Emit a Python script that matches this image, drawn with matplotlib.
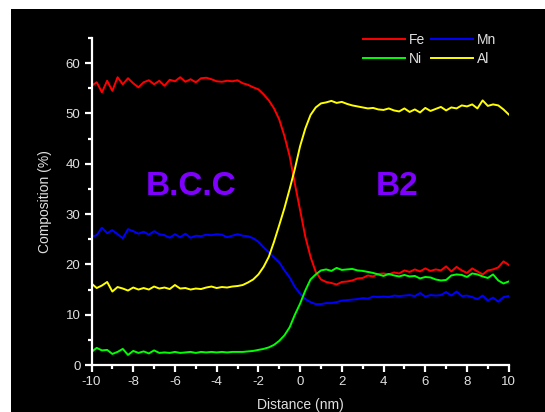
import numpy as np
from matplotlib import pyplot as plt
from matplotlib.patches import Rectangle
from matplotlib.ticker import MultipleLocator

######################
# Data (0.25 nm steps)

distance = np.arange(-10, 10.001, 0.25)

fe = [55.5, 56.2, 54.2, 56.5, 54.5, 57.2, 55.8, 57.0, 56.0, 55.2,
      56.2, 56.6, 55.8, 56.5, 55.5, 56.7, 56.4, 57.2, 56.3, 56.8,
      56.2, 57.0, 57.1, 56.8, 56.4, 56.3, 56.5, 56.4, 56.6, 56.0,
      55.7, 55.2, 54.8, 53.8, 52.6, 51.0, 48.8, 45.5, 41.5, 36.0,
      30.8, 25.5, 21.5, 18.5, 17.0, 16.5, 16.3, 16.0, 16.5, 16.6,
      16.8, 17.2, 17.3, 17.8, 17.6, 18.1, 18.2, 18.0, 18.4, 18.2,
      18.8, 18.5, 19.0, 18.6, 19.2, 18.7, 19.0, 18.8, 19.6, 18.6,
      19.5, 18.8, 18.3, 19.2, 18.6, 18.0, 18.8, 19.0, 19.4, 20.6,
      19.9]

mn = [25.5, 25.8, 27.3, 26.2, 26.8, 26.0, 25.2, 27.0, 26.6, 26.1,
      26.5, 25.9, 26.6, 26.0, 25.8, 25.3, 26.0, 25.4, 26.1, 25.3,
      25.7, 25.6, 25.9, 25.8, 26.0, 25.9, 25.4, 25.7, 26.0, 25.7,
      25.6, 25.2, 24.5, 23.4, 22.4, 21.4, 20.4, 18.8, 17.4, 15.5,
      14.2, 13.1, 12.5, 12.1, 12.1, 12.3, 12.3, 12.5, 12.8, 12.9,
      13.0, 13.1, 13.3, 13.2, 13.6, 13.5, 13.6, 13.5, 13.8, 13.7,
      13.8, 13.9, 13.7, 14.3, 13.6, 13.9, 13.8, 13.9, 14.5, 13.8,
      14.6, 13.7, 13.8, 13.5, 13.1, 13.8, 12.8, 13.4, 12.6, 13.5,
      13.7]

ni = [2.6, 3.4, 2.9, 3.0, 2.2, 2.6, 3.2, 2.0, 2.8, 2.4,
      2.7, 2.3, 2.9, 2.4, 2.5, 2.4, 2.6, 2.4, 2.5, 2.6,
      2.4, 2.6, 2.5, 2.6, 2.5, 2.6, 2.5, 2.6, 2.6, 2.6,
      2.7, 2.8, 3.0, 3.2, 3.5, 4.0, 4.8, 5.9, 7.5, 10.0,
      12.2, 14.8, 17.0, 18.0, 18.8, 19.0, 18.7, 19.3, 18.9, 19.0,
      19.1, 18.8, 18.7, 18.5, 18.3, 18.0, 17.7, 18.1, 17.8, 17.6,
      17.9, 17.6, 17.7, 17.2, 17.5, 17.4, 17.0, 16.8, 16.9, 17.8,
      18.0, 17.9, 17.5, 18.2, 18.0, 17.6, 17.3, 18.0, 16.8, 16.2,
      16.6]

al = [16.2, 15.3, 15.8, 16.5, 14.6, 15.5, 15.2, 14.8, 15.4, 15.0,
      15.3, 15.0, 15.6, 15.2, 15.4, 15.1, 15.9, 15.2, 15.3, 15.0,
      15.2, 15.1, 15.4, 15.6, 15.3, 15.5, 15.4, 15.6, 15.7, 15.9,
      16.4, 17.0, 18.0, 19.5, 21.5, 24.5, 27.8, 31.2, 35.0, 39.0,
      43.5, 47.0, 49.7, 51.2, 52.0, 52.2, 52.5, 52.1, 52.3, 51.9,
      51.6, 51.4, 51.2, 51.0, 51.1, 50.8, 50.7, 51.0, 50.6, 50.4,
      51.0, 50.3, 50.8, 50.2, 51.1, 50.5, 50.9, 51.3, 50.6, 51.2,
      51.0, 51.6, 51.4, 51.8, 51.0, 52.6, 51.5, 51.8, 51.6, 50.8,
      49.8]

######################

plt.rc('font', family=['Liberation Sans', 'DejaVu Sans'])
plt.rc('axes', unicode_minus=False)

fig = plt.figure(figsize=(5.45, 4.12), dpi=100, facecolor='white')
# black panel, leaving a thin white strip on the left and top
fig.patches.append(Rectangle((11 / 545, 0), 1, 1 - 9 / 412, transform=fig.transFigure,
                             facecolor='black', edgecolor='none', zorder=-10))

ax = fig.add_axes([91.5 / 545, 1 - 365 / 412, (508.7 - 91.5) / 545, (365 - 38) / 412])
ax.set_facecolor('black')

lw = 1.4
l_fe, = ax.plot(distance, fe, color='#ff0000', lw=lw, label='Fe')
l_mn, = ax.plot(distance, mn, color='#0000ff', lw=lw, label='Mn')
l_ni, = ax.plot(distance, ni, color='#00ff00', lw=lw, label='Ni')
l_al, = ax.plot(distance, al, color='#ffff00', lw=lw, label='Al')

ax.set_xlim(-10, 10)
ax.set_ylim(0, 65)
ax.xaxis.set_major_locator(MultipleLocator(2))
ax.xaxis.set_minor_locator(MultipleLocator(1))
ax.yaxis.set_major_locator(MultipleLocator(10))
ax.yaxis.set_minor_locator(MultipleLocator(5))

for s in ['top', 'right']:
    ax.spines[s].set_visible(False)
for s in ['left', 'bottom']:
    ax.spines[s].set_color('white')
    ax.spines[s].set_linewidth(1.6)

ax.tick_params(which='major', direction='out', length=5, width=1.6, colors='white',
               labelcolor='#e0e0e0', labelsize=9.5, pad=3)
ax.tick_params(which='minor', direction='out', length=3, width=1.6, colors='white')

ax.set_xlabel('Distance (nm)', color='#e0e0e0', fontsize=10, labelpad=7)
ax.set_ylabel('Composition (%)', color='#e0e0e0', fontsize=10, labelpad=10)

ax.text(-5.23, 35.4, 'B.C.C', color='#7f00ff', fontsize=24, fontweight='bold',
        ha='center', va='center')
ax.text(4.64, 35.4, 'B2', color='#7f00ff', fontsize=24, fontweight='bold',
        ha='center', va='center')

leg = ax.legend(handles=[l_fe, l_ni, l_mn, l_al], ncol=2, frameon=False,
                loc='upper right', bbox_to_anchor=(503 / 545, 1 - 26 / 412),
                bbox_transform=fig.transFigure, fontsize=10,
                handlelength=3.0, handletextpad=0.3, columnspacing=0.4,
                labelspacing=0.35, borderpad=0)
for t in leg.get_texts():
    t.set_color('#e0e0e0')

fig.savefig('out.png', dpi=100, facecolor=fig.get_facecolor())
